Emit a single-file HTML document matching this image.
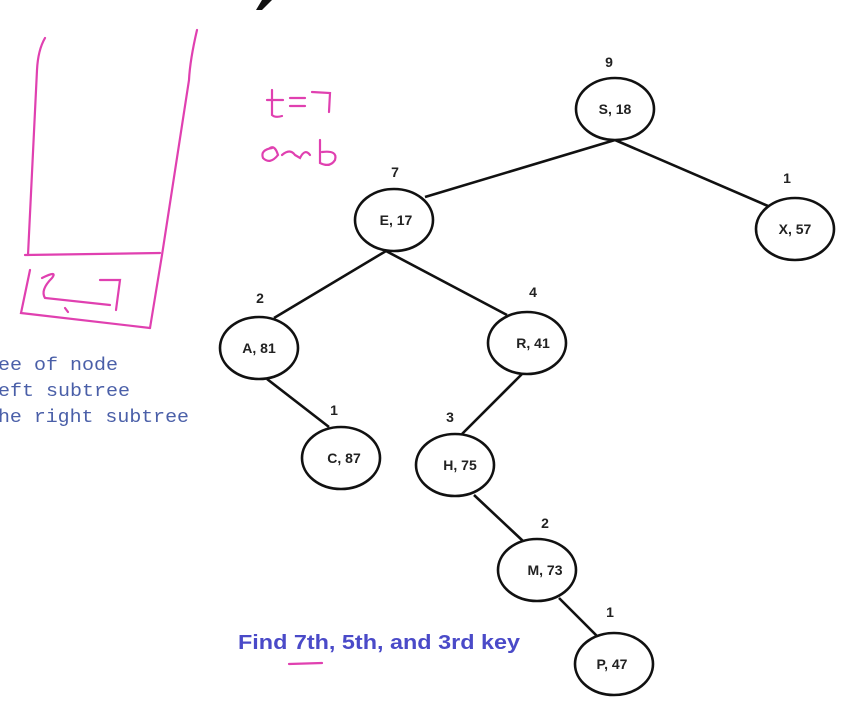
<!DOCTYPE html>
<html><head><meta charset="utf-8"><style>
html,body{margin:0;padding:0;background:#fff;}
svg{display:block;}
.n{font-family:"Liberation Sans",sans-serif;font-weight:bold;font-size:14px;fill:#222;}
.c{font-family:"Liberation Sans",sans-serif;font-weight:bold;font-size:14px;fill:#222;}
.m{font-family:"Liberation Mono",monospace;font-size:18px;fill:#4a5fa8;}
</style></head><body>
<svg width="856" height="722" viewBox="0 0 856 722" xmlns="http://www.w3.org/2000/svg">
<rect width="856" height="722" fill="#fff"/>
<path d="M256 10 L262 0 L272 0 L262 10 Z" fill="#111"/>
<g stroke="#e040b0" stroke-width="2.2" fill="none" stroke-linecap="round">
<path d="M45 38 Q38 50 37 70 L28 255"/>
<path d="M197 30 Q190 60 189 80 L162 255 L150 328"/>
<path d="M25 255 L160 253"/>
<path d="M30 270 L21 313 L150 328"/>
<path d="M42 278 Q58 270 52 278 Q40 290 45 298 L110 305"/>
<path d="M100 280 L120 280 L116 310"/>
<path d="M65 308 L68 312"/>
<path d="M272 90 L272 115 Q275 118 282 116 M267 100 L283 100 M290 98 L305 98 M290 106 L305 106 M312 92 L330 93 L329 112"/>
<path d="M272 148 Q260 150 263 158 Q270 165 278 155 Q275 145 270 148 M282 155 Q290 148 295 155 L300 158 Q305 148 310 155 M320 140 L320 163 Q330 168 335 160 Q338 150 322 152"/>
<path d="M289 664 L322 663"/>
</g>
<text class="m" x="-2" y="370" textLength="120" lengthAdjust="spacingAndGlyphs">ee of node</text>
<text class="m" x="-2" y="396" textLength="132" lengthAdjust="spacingAndGlyphs">eft subtree</text>
<text class="m" x="-2" y="422" textLength="191" lengthAdjust="spacingAndGlyphs">he right subtree</text>
<g stroke="#111" stroke-width="2.6">
<line x1="615" y1="140" x2="425" y2="197"/>
<line x1="615" y1="140" x2="768" y2="206"/>
<line x1="386" y1="251" x2="274" y2="318"/>
<line x1="386" y1="251" x2="507" y2="315"/>
<line x1="267" y1="379" x2="329" y2="427"/>
<line x1="522" y1="374" x2="462" y2="434"/>
<line x1="474" y1="495" x2="523" y2="541"/>
<line x1="559" y1="598" x2="597" y2="636"/>
</g>
<g stroke="#111" stroke-width="2.6" fill="#fff">
<ellipse cx="615" cy="109" rx="39" ry="31"/>
<ellipse cx="394" cy="220" rx="39" ry="31"/>
<ellipse cx="795" cy="229" rx="39" ry="31"/>
<ellipse cx="259" cy="348" rx="39" ry="31"/>
<ellipse cx="527" cy="343" rx="39" ry="31"/>
<ellipse cx="341" cy="458" rx="39" ry="31"/>
<ellipse cx="455" cy="465" rx="39" ry="31"/>
<ellipse cx="537" cy="570" rx="39" ry="31"/>
<ellipse cx="614" cy="664" rx="39" ry="31"/>
</g>
<g class="n" text-anchor="middle">
<text x="615" y="114">S, 18</text>
<text x="396" y="225">E, 17</text>
<text x="795" y="234">X, 57</text>
<text x="259" y="353">A, 81</text>
<text x="533" y="348">R, 41</text>
<text x="344" y="463">C, 87</text>
<text x="460" y="470">H, 75</text>
<text x="545" y="575">M, 73</text>
<text x="612" y="669">P, 47</text>
</g>
<g class="c" text-anchor="middle">
<text x="609" y="67">9</text>
<text x="395" y="177">7</text>
<text x="787" y="183">1</text>
<text x="260" y="303">2</text>
<text x="533" y="297">4</text>
<text x="334" y="415">1</text>
<text x="450" y="422">3</text>
<text x="545" y="528">2</text>
<text x="610" y="617">1</text>
</g>
<text x="238" y="649" font-family="Liberation Sans, sans-serif" font-weight="bold" font-size="20" fill="#4a4ac8" textLength="282" lengthAdjust="spacingAndGlyphs">Find 7th, 5th, and 3rd key</text>
</svg>
</body></html>
